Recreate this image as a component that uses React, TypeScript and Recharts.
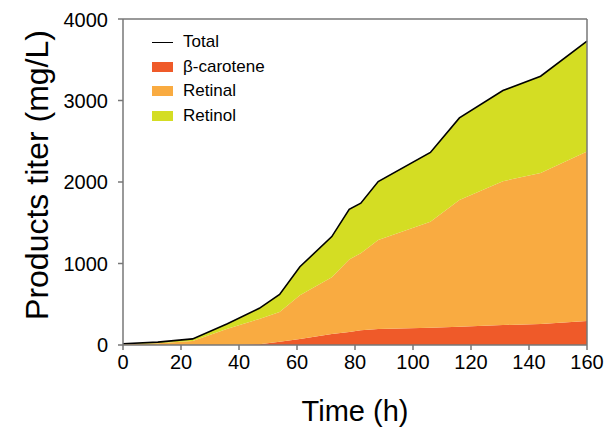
import React from 'react';
import { ComposedChart, Area, Line, XAxis, YAxis, ReferenceLine } from 'recharts';

const times = [0, 12, 24, 36, 47, 54, 61, 72, 78, 82, 88, 106, 116, 131, 144, 160];
const betaCarotene = [0, 0, 0, 0, 10, 40, 75, 135, 160, 180, 195, 212, 225, 245, 258, 295];
const retinal = [8, 20, 50, 200, 310, 364, 535, 695, 890, 947, 1092, 1300, 1555, 1765, 1852, 2079];
const retinol = [7, 15, 25, 60, 130, 216, 350, 500, 615, 613, 718, 850, 1006, 1112, 1188, 1355];
const xTicks = [0, 20, 40, 60, 80, 100, 120, 140, 160];
const yTicks = [0, 1000, 2000, 3000, 4000];

const C_BETA = '#EF5A29';
const C_RETINAL = '#F9AB41';
const C_RETINOL = '#D4DD23';
const AXIS = '#777777';
const FONT = '"Liberation Sans", Arial, sans-serif';

const data = times.map((t, i) => ({
  t,
  beta: betaCarotene[i],
  retinal: retinal[i],
  retinol: retinol[i],
  total: betaCarotene[i] + retinal[i] + retinol[i],
}));

const legendItems = [
  { name: 'Total', type: 'line', color: '#000000' },
  { name: 'β-carotene', type: 'box', color: C_BETA },
  { name: 'Retinal', type: 'box', color: C_RETINAL },
  { name: 'Retinol', type: 'box', color: C_RETINOL },
];

export default function App() {
  return (
    <div style={{ width: 612, height: 428, position: 'relative' }}>
      <ComposedChart
        width={612}
        height={428}
        data={data}
        margin={{ top: 11, right: 33, left: 0, bottom: 0 }}
        style={{ fontFamily: FONT }}
      >
        <XAxis
          dataKey="t"
          type="number"
          domain={[0, 160]}
          ticks={xTicks}
          height={91}
          tickSize={5}
          tickMargin={5}
          stroke={AXIS}
          strokeWidth={1.5}
          tick={{ fill: '#000', fontSize: 20, fontFamily: FONT }}
          label={{
            content: () => (
              <text x={347} y={413} textAnchor="middle" fontSize={29} fontFamily={FONT} fill="#000">
                Time (h)
              </text>
            ),
          }}
        />
        <YAxis
          type="number"
          domain={[0, 4000]}
          ticks={yTicks}
          width={115}
          tickSize={5}
          tickMargin={10}
          stroke={AXIS}
          strokeWidth={1.5}
          tick={{ fill: '#000', fontSize: 20, fontFamily: FONT }}
          label={{
            content: () => (
              <text
                x={29}
                y={167}
                textAnchor="middle"
                dominantBaseline="central"
                transform="rotate(-90 29 167)"
                fontSize={32}
                fontFamily={FONT}
                fill="#000"
              >
                Products titer (mg/L)
              </text>
            ),
          }}
        />
        <Area type="linear" dataKey="beta" name="β-carotene" stackId="s" stroke="none" fill={C_BETA} fillOpacity={1} isAnimationActive={false} />
        <Area type="linear" dataKey="retinal" name="Retinal" stackId="s" stroke="none" fill={C_RETINAL} fillOpacity={1} isAnimationActive={false} />
        <Area type="linear" dataKey="retinol" name="Retinol" stackId="s" stroke="none" fill={C_RETINOL} fillOpacity={1} isAnimationActive={false} />
        <Line type="linear" dataKey="total" name="Total" stroke="#000" strokeWidth={1.6} dot={false} isAnimationActive={false} />
        <ReferenceLine y={4000} stroke={AXIS} strokeWidth={1.5} />
        <ReferenceLine x={160} stroke={AXIS} strokeWidth={1.5} />
      </ComposedChart>
      <div style={{ position: 'absolute', top: 22, left: 144, fontFamily: FONT, fontSize: 17, color: '#000' }}>
        {legendItems.map((it) => (
          <div key={it.name} style={{ display: 'flex', alignItems: 'center', height: 24.5 }}>
            <div style={{ width: 21, height: it.type === 'line' ? 1.5 : 10, background: it.color, marginRight: 10 }} />
            <span>{it.name}</span>
          </div>
        ))}
      </div>
    </div>
  );
}
